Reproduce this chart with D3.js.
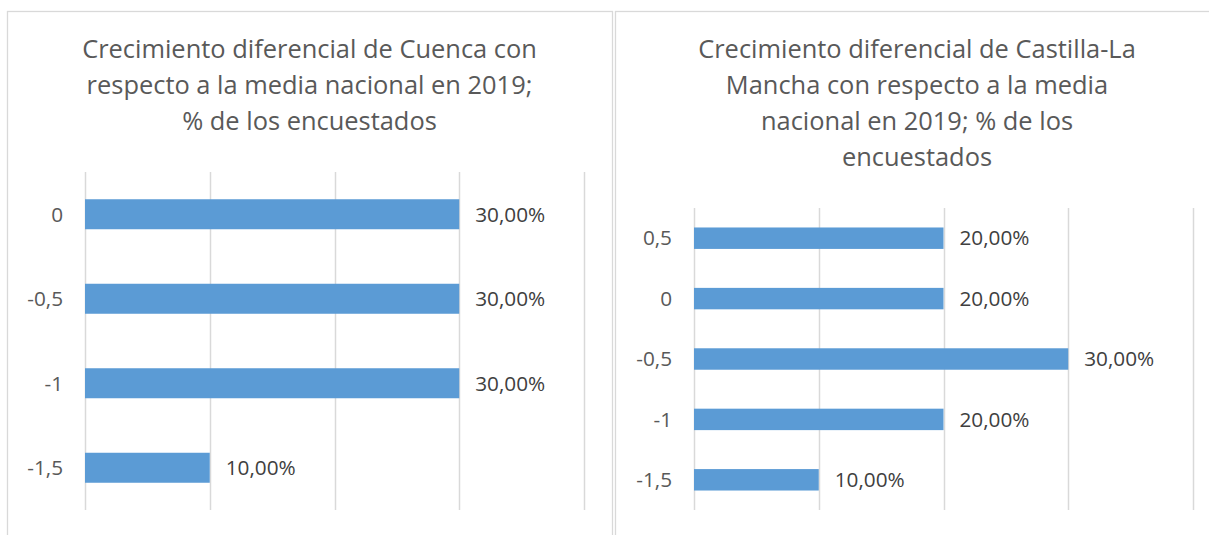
<!DOCTYPE html>
<html>
<head>
<meta charset="utf-8">
<script src="https://cdn.jsdelivr.net/npm/d3@7"></script>
<style>
  html, body { margin: 0; padding: 0; background: #ffffff; }
  svg { display: block; }
  text { font-family: "Open Sans", Lato, sans-serif; }
</style>
</head>
<body>
<svg id="chart" width="1209" height="535"></svg>
<script>
// ---- Data ----
const cuencaTitle = ["Crecimiento diferencial de Cuenca con", "respecto a la media nacional en 2019;", "% de los encuestados"];
const cuencaCategories = ["0", "-0,5", "-1", "-1,5"];
const cuencaValues = [30, 30, 30, 10];

const clmTitle = ["Crecimiento diferencial de Castilla-La", "Mancha con respecto a la media", "nacional en 2019; % de los", "encuestados"];
const clmCategories = ["0,5", "0", "-0,5", "-1", "-1,5"];
const clmValues = [20, 20, 30, 20, 10];

const xTicks = [0, 10, 20, 30, 40];

// ---- Styles ----
const barColor = "#5b9bd5";
const gridColor = "#d9d9d9";
const textColor = "#595959";
const labelColor = "#404040";

const svg = d3.select("#chart");

function measure(str, size) {
  const t = svg.append("text").attr("font-size", size).text(str);
  const w = t.node().getComputedTextLength();
  t.remove();
  return w;
}
// fit font sizes to the reference widths
const titleSize = 20 * 455 / measure(cuencaTitle[0], 20);
const labelSize = 20 * 70 / measure("30,00%", 20);

const fmt = v => d3.format(".2f")(v).replace(".", ",") + "%";

function drawPanel(cfg) {
  const g = svg.append("g");
  // panel border
  g.append("rect")
    .attr("x", cfg.box[0] + 0.5).attr("y", cfg.box[1] + 0.5)
    .attr("width", cfg.box[2]).attr("height", cfg.box[3])
    .attr("fill", "#fff").attr("stroke", gridColor).attr("stroke-width", 1.3);

  // title
  const cx = cfg.box[0] + cfg.box[2] / 2;
  g.append("g").selectAll("text").data(cfg.title).join("text")
    .attr("x", cx)
    .attr("y", (d, i) => cfg.titleY + i * 36)
    .attr("text-anchor", "middle")
    .attr("font-size", titleSize)
    .attr("fill", textColor)
    .text(d => d);

  const x = d3.scaleLinear().domain([0, 40]).range([cfg.plot[0], cfg.plot[1]]);
  const y = d3.scaleBand().domain(cfg.categories).range([cfg.plot[2], cfg.plot[3]])
    .paddingInner(0.645).paddingOuter(0.3225);

  // gridlines
  g.append("g").selectAll("line").data(xTicks).join("line")
    .attr("x1", d => Math.round(x(d)) + 0.5).attr("x2", d => Math.round(x(d)) + 0.5)
    .attr("y1", cfg.plot[2]).attr("y2", cfg.plot[3])
    .attr("stroke", gridColor).attr("stroke-width", 1.5);

  // category axis labels
  g.append("g").selectAll("text").data(cfg.categories).join("text")
    .attr("x", cfg.plot[0] - 22)
    .attr("y", d => y(d) + y.bandwidth() / 2)
    .attr("dy", "0.35em")
    .attr("text-anchor", "end")
    .attr("font-size", labelSize)
    .attr("fill", textColor)
    .text(d => d);

  const data = cfg.categories.map((c, i) => ({ c, v: cfg.values[i] }));
  // bars
  g.append("g").selectAll("rect").data(data).join("rect")
    .attr("x", x(0))
    .attr("y", d => y(d.c))
    .attr("width", d => x(d.v) - x(0))
    .attr("height", y.bandwidth())
    .attr("fill", barColor);

  // data labels
  g.append("g").selectAll("text").data(data).join("text")
    .attr("x", d => x(d.v) + 16)
    .attr("y", d => y(d.c) + y.bandwidth() / 2)
    .attr("dy", "0.35em")
    .attr("font-size", labelSize)
    .attr("fill", labelColor)
    .text(d => fmt(d.v));
}

drawPanel({
  box: [7, 11, 605, 540],
  title: cuencaTitle, titleY: 58,
  categories: cuencaCategories, values: cuencaValues,
  plot: [85, 584, 172, 510]
});

drawPanel({
  box: [615, 11, 604, 540],
  title: clmTitle, titleY: 58,
  categories: clmCategories, values: clmValues,
  plot: [694, 1193, 208, 510]
});
</script>
</body>
</html>
